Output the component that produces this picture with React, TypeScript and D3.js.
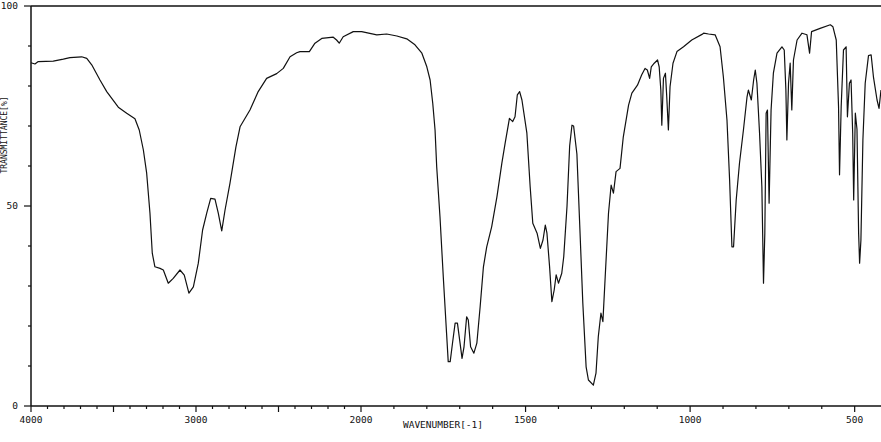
import { useEffect, useMemo } from "react"
import { line as d3Line, curveLinear, scaleLinear, range as d3Range } from "d3"

// IR spectrum (wavenumber in cm-1, transmittance in %)
const wavenumbers = [
  4000, 3976, 3956, 3865, 3804, 3764, 3693, 3662, 3632, 3582, 3541, 3471, 3420, 3370, 3344, 3319, 3299,
  3279, 3265, 3249, 3218, 3198, 3168, 3138, 3097, 3071, 3043, 3016, 2986, 2960, 2935, 2911, 2885, 2865,
  2844, 2824, 2794, 2758, 2733, 2673, 2623, 2572, 2511, 2471, 2430, 2390, 2370, 2313, 2279, 2238, 2168,
  2148, 2132, 2108, 2047, 1998, 1952, 1922, 1891, 1861, 1836, 1815, 1800, 1790, 1782, 1775, 1770, 1760,
  1750, 1740, 1735, 1729, 1722, 1714, 1707, 1699, 1693, 1687, 1679, 1674, 1667, 1657, 1648, 1638, 1628,
  1618, 1603, 1587, 1572, 1562, 1549, 1539, 1532, 1525, 1518, 1511, 1496, 1486, 1478, 1465, 1455, 1447,
  1440, 1435, 1427, 1420, 1413, 1407, 1400, 1390, 1384, 1374, 1366, 1359, 1354, 1344, 1336, 1326, 1316,
  1309, 1294, 1286, 1279, 1271, 1265, 1258, 1248, 1240, 1233, 1225, 1213, 1203, 1187, 1177, 1160, 1147,
  1137, 1130, 1123, 1118, 1109, 1099, 1094, 1089, 1086, 1081, 1075, 1071, 1066, 1061, 1052, 1040, 1020,
  995, 964, 959, 944, 924, 909, 899, 888, 880, 873, 868, 860, 850, 838, 827, 823, 814, 807, 802, 797,
  789, 782, 777, 773, 769, 765, 760, 754, 747, 736, 721, 714, 709, 706, 701, 696, 691, 686, 675, 660,
  645, 637, 631, 605, 574, 566, 556, 549, 546, 541, 534, 526, 522, 516, 511, 506, 503, 498, 493, 488,
  485, 481, 475, 468, 458, 450, 443, 432, 426, 420,
]

const transmittance = [
  85.8, 85.5, 86.1, 86.2, 86.7, 87.1, 87.3, 86.9, 85.3, 81.5, 78.6, 74.7, 73.2, 71.8, 69, 64, 58.2,
  48.2, 38.2, 34.8, 34.4, 34, 30.7, 31.9, 34, 32.7, 28.2, 29.8, 35.7, 44, 48.2, 51.9, 51.7, 48.2,
  43.8, 49, 55.7, 64.8, 69.8, 74, 78.6, 81.9, 83.1, 84.4, 87.3, 88.3, 88.6, 88.6, 90.7, 91.9, 92.2,
  91.5, 90.7, 92.3, 93.6, 93.6, 92.8, 93, 92.5, 91.8, 90.3, 88.2, 84.8, 81.5, 75.7, 69, 59.8, 47.3,
  32.3, 18.2, 11.1, 11.1, 15.7, 20.7, 20.7, 15.7, 11.9, 14.8, 22.3, 21.5, 14.8, 13.2, 15.7, 24.8, 34.8,
  39.8, 44.8, 52.3, 60.7, 65.7, 71.9, 71.1, 72.3, 77.8, 78.6, 76.5, 68.2, 54.8, 45.7, 43.2, 39.4, 41.5,
  45.2, 43.2, 34.8, 26.1, 29, 32.8, 30.7, 33.2, 37.3, 50, 65, 70.2, 70, 63, 46.5, 25.7, 9.8,
  6.5, 5.2, 8.2, 17.3, 23.2, 21.1, 32.3, 48.2, 55.2, 53.2, 58.6, 59.4, 67.3, 75.2, 78.2, 80.2, 82.8,
  84.4, 84, 81.9, 84.8, 85.7, 86.5, 84.8, 79, 70.2, 81.9, 83.2, 77.3, 69, 79.8, 85.7, 88.6, 89.8,
  91.5, 92.9, 93.2, 93, 92.8, 89.8, 82.3, 71.5, 56.5, 39.8, 39.8, 51.5, 60.7, 69, 77.3, 79, 76.5, 81.5, 84, 80.7,
  68.2, 54.8, 30.7, 43.2, 73.2, 74, 50.7, 74, 83.2, 88.2, 89.8, 89, 79, 66.5, 80.7, 85.7, 74, 86.5, 91.5, 93.2,
  92.8, 88.2, 93.6, 94.4, 95.3, 94.8, 91.5, 74.8, 57.8, 74.8, 89, 89.8, 72.3, 80.7, 81.5, 68.2, 51.5, 73.2, 69.2, 43.2,
  35.7, 41.5, 66.5, 80.7, 87.6, 87.8, 82.3, 76.5, 74.4, 79,
]

const xTickLabels = [4000, 3000, 2000, 1500, 1000, 500]
const yTickLabels = [0, 50, 100]

const ink = "#111"
const font = "'DejaVu Sans Mono', monospace"

export default function App() {
  useEffect(() => {
    document.body.style.margin = "0"
    document.body.style.overflow = "hidden"
  }, [])

  const width = 881
  const height = 442
  const left = 31
  const right = 881
  const top = 6
  const bottom = 406

  // the chart changes scale at 2000 cm-1 (double resolution below)
  const x = useMemo(() => scaleLinear().domain([4000, 2000, 420]).range([left, 361, right]), [])
  const y = useMemo(() => scaleLinear().domain([0, 100]).range([bottom, top]), [])

  const points = wavenumbers.map((w, i) => [w, transmittance[i]] as [number, number])
  const path =
    d3Line<[number, number]>()
      .x((d) => x(d[0]))
      .y((d) => y(d[1]))
      .curve(curveLinear)(points) ?? ""

  const xTicks = d3Range(4000, 499, -100)
  const yTicks = d3Range(0, 101, 10)

  return (
    <svg width={width} height={height} style={{ display: "block", background: "#fff" }}>
      {/* frame */}
      <line x1={left} x2={right} y1={top} y2={top} stroke={ink} strokeWidth={1.3} />
      <line x1={left} x2={left} y1={top} y2={bottom} stroke={ink} strokeWidth={1.5} />
      <line x1={left} x2={right} y1={bottom} y2={bottom} stroke={ink} strokeWidth={1.5} />

      {/* y ticks */}
      {yTicks.map((t) => {
        const major = t % 50 === 0
        return <line key={t} x1={major ? left - 7 : left - 3} x2={left} y1={y(t)} y2={y(t)} stroke={ink} strokeWidth={1.2} />
      })}
      {yTickLabels.map((t) => (
        <text key={t} x={18} y={y(t)} dy="0.35em" textAnchor="end" fontSize={9.5} fontFamily={font} fill={ink}>
          {t}
        </text>
      ))}

      {/* x ticks */}
      {xTicks.map((t) => {
        const major = t % 500 === 0
        return <line key={t} x1={x(t)} x2={x(t)} y1={bottom} y2={bottom + (major ? 6 : 3)} stroke={ink} strokeWidth={1.2} />
      })}
      {xTickLabels.map((t) => (
        <text key={t} x={x(t)} y={423} textAnchor="middle" fontSize={9.5} fontFamily={font} fill={ink}>
          {t}
        </text>
      ))}

      <text x={443} y={428} textAnchor="middle" fontSize={9.5} fontFamily={font} fill={ink}>
        WAVENUMBER[-1]
      </text>
      <text transform="translate(7,135) rotate(-90)" textAnchor="middle" fontSize={8} fontFamily={font} fill={ink}>
        TRANSMITTANCE[%]
      </text>

      <path d={path} fill="none" stroke={ink} strokeWidth={1.2} strokeLinejoin="round" />
    </svg>
  )
}
